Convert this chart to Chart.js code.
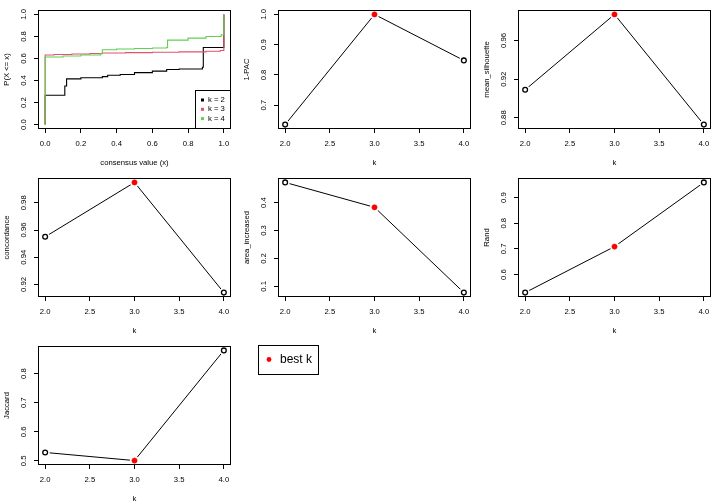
<!DOCTYPE html>
<html><head><meta charset="utf-8">
<script src="https://cdn.jsdelivr.net/npm/chart.js@4"></script>
<style>
html,body{margin:0;padding:0;background:#fff;}
body{width:720px;height:504px;position:relative;overflow:hidden;}
canvas{position:absolute;}
</style></head><body>
<script>
// ---------- data ----------
const kValues = [2, 3, 4];
const bestK = 3;
const onePAC = [0.636, 1.000, 0.848];
const meanSilhouette = [0.909, 0.987, 0.873];
const concordance = [0.955, 0.995, 0.914];
const areaIncreased = [0.472, 0.383, 0.078];
const randIndex = [0.530, 0.709, 0.959];
const jaccard = [0.529, 0.501, 0.880];

const kTickValues = [2.0, 2.5, 3.0, 3.5, 4.0];
const kTickLabels = ['2.0', '2.5', '3.0', '3.5', '4.0'];

// ECDF of consensus values
const ecdfK2X = [0, 0, 0.11, 0.12, 0.2, 0.32, 0.35, 0.42, 0.5, 0.6, 0.68, 0.75, 0.88, 0.885, 0.99, 1.0];
const ecdfK2Y = [0, 0.266, 0.35, 0.415, 0.425, 0.435, 0.448, 0.455, 0.472, 0.485, 0.5, 0.505, 0.52, 0.70, 0.70, 1.0];
const ecdfK3X = [0, 0, 0.05, 0.15, 0.25, 0.32, 0.45, 0.6, 0.75, 0.9, 0.98, 1.0];
const ecdfK3Y = [0, 0.632, 0.636, 0.64, 0.645, 0.65, 0.653, 0.656, 0.66, 0.665, 0.672, 1.0];
const ecdfK4X = [0, 0, 0.1, 0.2, 0.31, 0.32, 0.4, 0.5, 0.6, 0.68, 0.685, 0.8, 0.9, 0.985, 1.0];
const ecdfK4Y = [0, 0.613, 0.622, 0.632, 0.643, 0.679, 0.686, 0.69, 0.695, 0.70, 0.767, 0.785, 0.80, 0.815, 1.0];
const ecdfLabels = ['k = 2', 'k = 3', 'k = 4'];
const ecdfTickValues = [0, 0.2, 0.4, 0.6, 0.8, 1.0];
const ecdfTickLabels = ['0.0', '0.2', '0.4', '0.6', '0.8', '1.0'];

const metricPanels = [
  {title: '1-PAC', values: onePAC, ticks: [0.7, 0.8, 0.9, 1.0], labels: ['0.7', '0.8', '0.9', '1.0']},
  {title: 'mean_silhouette', values: meanSilhouette, ticks: [0.88, 0.92, 0.96], labels: ['0.88', '0.92', '0.96']},
  {title: 'concordance', values: concordance, ticks: [0.92, 0.94, 0.96, 0.98], labels: ['0.92', '0.94', '0.96', '0.98']},
  {title: 'area_increased', values: areaIncreased, ticks: [0.1, 0.2, 0.3, 0.4], labels: ['0.1', '0.2', '0.3', '0.4']},
  {title: 'Rand', values: randIndex, ticks: [0.6, 0.7, 0.8, 0.9], labels: ['0.6', '0.7', '0.8', '0.9']},
  {title: 'Jaccard', values: jaccard, ticks: [0.5, 0.6, 0.7, 0.8], labels: ['0.5', '0.6', '0.7', '0.8']}
];

// ---------- styling ----------
const FAMILY = "'Liberation Sans', Arial, Helvetica, sans-serif";
const FS = 7.7;
const font = {family: FAMILY, size: FS, lineHeight: 1.2};
const COL_K = ['#000000', '#DF536B', '#61D04F'];
const PW = 240, PH = 168;

Chart.defaults.animation = false;
Chart.defaults.font.family = FAMILY;

const measureCtx = document.createElement('canvas').getContext('2d');
function textW(s, size) { measureCtx.font = size + 'px ' + FAMILY; return measureCtx.measureText(s).width; }

function extRange(vals) {
  const mn = Math.min(...vals), mx = Math.max(...vals), d = (mx - mn) * 0.04;
  return [mn - d, mx + d];
}

function makeCanvas(col, row) {
  const c = document.createElement('canvas');
  c.width = PW; c.height = PH;
  c.style.left = (col * PW) + 'px';
  c.style.top = (row * PH) + 'px';
  c.style.width = PW + 'px'; c.style.height = PH + 'px';
  document.body.appendChild(c);
  return c;
}

const boxPlugin = {
  id: 'rbox',
  afterDraw(chart) {
    const a = chart.chartArea, ctx = chart.ctx;
    ctx.save();
    ctx.strokeStyle = '#000'; ctx.lineWidth = 1;
    const x0 = Math.round(a.left) + 0.5, x1 = Math.round(a.right) - 0.5;
    const y0 = Math.round(a.top) + 0.5, y1 = Math.round(a.bottom) - 0.5;
    ctx.strokeRect(x0, y0, x1 - x0, y1 - y0);
    ctx.restore();
  }
};

function xAxis(min, max, tickVals, tickLabels, title) {
  return {
    type: 'linear', position: 'bottom', min, max,
    afterBuildTicks: s => { s.ticks = tickVals.map(v => ({value: v})); },
    afterFit: s => { s.height = 39; },
    grid: {display: true, drawOnChartArea: false, drawTicks: true, tickLength: 4, color: '#000', lineWidth: 1},
    border: {display: false},
    ticks: {autoSkip: false, maxRotation: 0, minRotation: 0, color: '#000', font, padding: 6,
            callback: (v, i) => tickLabels[i]},
    title: {display: true, text: title, color: '#000', font, padding: {top: 0, bottom: 0}}
  };
}
function yAxis(min, max, tickVals, tickLabels, title) {
  const widest = Math.max(...tickLabels.map(l => textW(l, FS)));
  return {
    type: 'linear', position: 'left', min, max,
    afterBuildTicks: s => { s.ticks = tickVals.map(v => ({value: v})); },
    afterFit: s => { s.width = 38; },
    grid: {display: true, drawOnChartArea: false, drawTicks: true, tickLength: 4, color: '#000', lineWidth: 1},
    border: {display: false},
    ticks: {autoSkip: false, minRotation: 90, maxRotation: 90, crossAlign: 'center', color: '#000', font,
            padding: 10.5 - widest / 2, callback: (v, i) => tickLabels[i]},
    title: {display: true, text: title, color: '#000', font, padding: {top: 2, bottom: 0}}
  };
}

const baseOptions = (scales, extraPlugins) => ({
  responsive: false, maintainAspectRatio: false, devicePixelRatio: 1, animation: false,
  layout: {padding: {left: 0, top: 10, right: 9, bottom: 0}},
  plugins: Object.assign({legend: {display: false}, tooltip: {enabled: false}}, extraPlugins || {}),
  scales
});

// ---------- panel 1: ECDF ----------
const ecdfLegendPlugin = {
  id: 'ecdfLegend',
  afterDraw(chart) {
    const ctx = chart.ctx, a = chart.chartArea;
    const ds = chart.data.datasets.slice().sort((p, q) => p.legendIndex - q.legendIndex);
    const bw = 36, bh = 39;
    const bx = Math.round(a.right) - bw, by = Math.round(a.bottom) - bh;
    ctx.save();
    ctx.fillStyle = '#fff';
    ctx.fillRect(bx, by, bw, bh);
    ctx.strokeStyle = '#000'; ctx.lineWidth = 1;
    ctx.strokeRect(bx + 0.5, by + 0.5, bw - 1, bh - 1);
    ctx.font = FS + 'px ' + FAMILY;
    ctx.textBaseline = 'middle'; ctx.textAlign = 'left';
    ds.forEach((d, i) => {
      const cy = by + 10 + i * 9.3;
      ctx.fillStyle = d.borderColor;
      ctx.fillRect(bx + 6, cy - 1.5, 3, 3);
      ctx.fillStyle = '#000';
      ctx.fillText(d.label, bx + 13, cy);
    });
    ctx.restore();
  }
};

function ecdfData(xs, ys) { return xs.map((x, i) => ({x, y: ys[i]})); }
const ecdfSeries = [[ecdfK2X, ecdfK2Y], [ecdfK3X, ecdfK3Y], [ecdfK4X, ecdfK4Y]];

new Chart(makeCanvas(0, 0), {
  type: 'scatter',
  data: {
    datasets: ecdfSeries.map((s, i) => ({
      label: ecdfLabels[i], legendIndex: i, order: 3 - i,
      data: ecdfData(s[0], s[1]),
      showLine: true, stepped: 'before',
      borderColor: COL_K[i], backgroundColor: COL_K[i], borderWidth: 1.1,
      pointRadius: 0
    }))
  },
  options: baseOptions({
    x: xAxis(-0.04, 1.04, ecdfTickValues, ecdfTickLabels, 'consensus value (x)'),
    y: yAxis(-0.04, 1.04, ecdfTickValues, ecdfTickLabels, 'P(X <= x)')
  }),
  plugins: [boxPlugin, ecdfLegendPlugin]
});

// ---------- metric panels ----------
const positions = [[1, 0], [2, 0], [0, 1], [1, 1], [2, 1], [0, 2]];
const kRange = extRange(kValues);
metricPanels.forEach((p, idx) => {
  const [col, row] = positions[idx];
  const yr = extRange(p.values);
  const pts = kValues.map((k, i) => ({x: k, y: p.values[i]}));
  new Chart(makeCanvas(col, row), {
    type: 'line',
    data: {
      datasets: [
        { // connecting line (R type = "b")
          label: p.title, data: pts, order: 3,
          borderColor: '#000', borderWidth: 1, pointRadius: 0, tension: 0
        },
        { // white gap around each point
          label: p.title + ' gap', data: pts, order: 2, showLine: false,
          pointRadius: 4.6, pointBorderWidth: 0,
          pointBackgroundColor: '#FFFFFF', pointBorderColor: '#FFFFFF'
        },
        { // markers
          label: p.title + ' points', data: pts, order: 1, showLine: false,
          pointRadius: kValues.map(k => k === bestK ? 2.6 : 2.4),
          pointBorderWidth: kValues.map(k => k === bestK ? 0.6 : 1.3),
          pointBorderColor: kValues.map(k => k === bestK ? '#FF0000' : '#000'),
          pointBackgroundColor: kValues.map(k => k === bestK ? '#FF0000' : '#FFFFFF')
        }
      ]
    },
    options: baseOptions({
      x: xAxis(kRange[0], kRange[1], kTickValues, kTickLabels, 'k'),
      y: yAxis(yr[0], yr[1], p.ticks, p.labels, p.title)
    }),
    plugins: [boxPlugin]
  });
});

// ---------- best k legend ----------
const bestLegendPlugin = {
  id: 'bestLegend',
  afterDraw(chart) {
    const ctx = chart.ctx;
    const d = chart.data.datasets[0];
    ctx.save();
    ctx.strokeStyle = '#000'; ctx.lineWidth = 1;
    ctx.strokeRect(18.5, 9.5, 60, 29);
    ctx.beginPath();
    ctx.arc(29, 23.5, 2.4, 0, Math.PI * 2);
    ctx.fillStyle = d.pointBackgroundColor; ctx.fill();
    ctx.font = '12px ' + FAMILY;
    ctx.fillStyle = '#000'; ctx.textBaseline = 'middle'; ctx.textAlign = 'left';
    ctx.fillText(d.label, 40, 24);
    ctx.restore();
  }
};
new Chart(makeCanvas(1, 2), {
  type: 'scatter',
  data: {datasets: [{label: 'best k', data: [], pointBackgroundColor: '#FF0000'}]},
  options: {
    responsive: false, devicePixelRatio: 1, animation: false,
    plugins: {legend: {display: false}, tooltip: {enabled: false}},
    scales: {x: {display: false}, y: {display: false}}
  },
  plugins: [bestLegendPlugin]
});
</script>
</body></html>
